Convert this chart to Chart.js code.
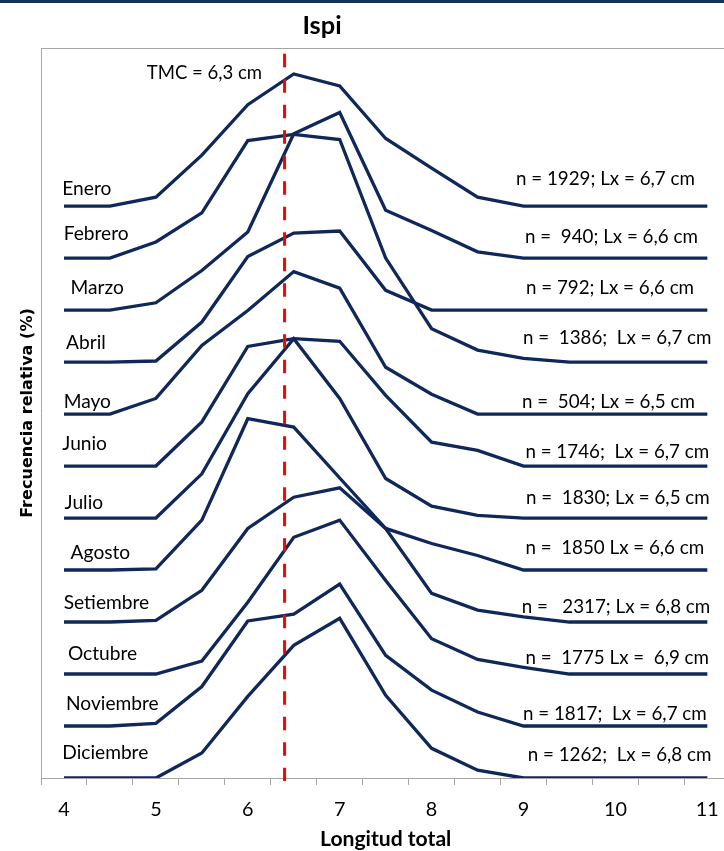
<!DOCTYPE html>
<html><head><meta charset="utf-8">
<script src="https://cdn.jsdelivr.net/npm/chart.js@4.4.1/dist/chart.umd.min.js"></script>
<style>
html,body{margin:0;padding:0;overflow:hidden;background:#fff;width:724px;height:851px}
#wrap{position:relative;width:724px;height:851px;overflow:hidden}
#topbar{position:absolute;left:0;top:0;width:724px;height:3px;background:#14325f}
canvas{position:absolute;left:0;top:0}
</style></head><body>
<div id="wrap"><canvas id="c" width="732" height="851"></canvas><div id="topbar"></div></div>
<script>
// ---------- DATA ----------
const lengthClasses = [4, 4.5, 5, 5.5, 6, 6.5, 7, 7.5, 8, 8.5, 9, 9.5, 10, 10.5, 11];
const xTickValues   = [4, 4.5, 5, 5.5, 6, 6.5, 7, 7.5, 8, 8.5, 9, 9.5, 10, 10.5, 11];
const xTickLabels   = ['4', '', '5', '', '6', '', '7', '', '8', '', '9', '', '10', '', '11'];
const months = ['Enero','Febrero','Marzo','Abril','Mayo','Junio','Julio','Agosto','Setiembre','Octubre','Noviembre','Diciembre'];
const sampleLabels = [
  'n = 1929; Lx = 6,7 cm',
  'n =  940; Lx = 6,6 cm',
  'n = 792; Lx = 6,6 cm',
  'n =  1386;  Lx = 6,7 cm',
  'n =  504; Lx = 6,5 cm',
  'n = 1746;  Lx = 6,7 cm',
  'n =  1830; Lx = 6,5 cm',
  'n =  1850 Lx = 6,6 cm',
  'n =   2317; Lx = 6,8 cm',
  'n =  1775 Lx =  6,9 cm',
  'n = 1817;  Lx = 6,7 cm',
  'n = 1262;  Lx = 6,8 cm'
];
// plotted (offset) relative frequency values per curve
const enero      = [110, 110, 111.7, 119.8, 129.5, 135.4, 133.1, 123.0, 117.3, 111.7, 110, 110, 110, 110, 110];
const febrero    = [100, 100, 103.1, 108.7, 122.6, 123.8, 122.8, 100.0, 86.4, 82.3, 80.7, 80, 80, 80, 80];
const marzo      = [90, 90, 91.4, 97.6, 105.0, 123.9, 128.0, 109.2, 105.3, 101.2, 100, 100, 100, 100, 100];
const abril      = [80, 80, 80.2, 87.7, 100.3, 104.8, 105.2, 93.8, 90, 90, 90, 90, 90, 90, 90];
const mayo       = [70, 70, 73.0, 83.2, 89.9, 97.4, 94.2, 79.0, 73.8, 70, 70, 70, 70, 70, 70];
const junio      = [60, 60, 60, 68.5, 83.0, 84.5, 84.0, 73.6, 64.6, 63.0, 60, 60, 60, 60, 60];
const julio      = [50, 50, 50, 58.5, 73.9, 84.5, 73.0, 57.6, 52.3, 50.5, 50, 50, 50, 50, 50];
const agosto     = [40, 40, 40.2, 49.6, 69.1, 67.5, 57.7, 48.0, 35.5, 32.3, 31.0, 30, 30, 30, 30];
const setiembre  = [30, 30, 30.3, 36.1, 48.0, 54.0, 55.8, 48.0, 45.1, 42.8, 40, 40, 40, 40, 40];
const octubre    = [20, 20, 20, 22.5, 33.8, 46.3, 49.6, 38.0, 26.8, 22.8, 21.3, 20, 20, 20, 20];
const noviembre  = [10, 10, 10.5, 17.6, 30.2, 31.5, 37.3, 23.6, 16.9, 12.7, 10, 10, 10, 10, 10];
const diciembre  = [0, 0, 0, 4.8, 15.7, 25.5, 30.7, 15.9, 5.7, 1.5, 0, 0, 0, 0, 0];
const seriesValues = [enero, febrero, marzo, abril, mayo, junio, julio, agosto, setiembre, octubre, noviembre, diciembre];
const tmcLabel = 'TMC = 6,3 cm';
const tmcLineX = 6.4;
const tmcLineY = [139.3, -0.6];

// ---------- LAYOUT / STYLE ----------
const NAVY = '#0f2859';
const GRAY = '#a6a6a6';
const monthLabelX = [62.3, 63.7, 70.6, 66, 63.7, 62.3, 64.6, 70.6, 63.7, 67.9, 66, 62.3];
const monthLabelY = [188.3, 233.3, 287.3, 341.7, 401, 443.3, 501.7, 551.7, 601.7, 652.7, 703.3, 751.7];
const nLabelX = [516, 525, 526, 523, 522, 525.4, 526, 525.4, 521.7, 525.4, 523, 527.7];
const nLabelY = [177.7, 236, 287.3, 336.7, 401, 451, 496.7, 546.7, 606, 656.7, 712.7, 754];

const mc = document.createElement('canvas').getContext('2d');
function fit(text, weight, family, target) {
  mc.font = weight + ' 100px ' + family;
  return 100 * target / mc.measureText(text).width;
}
const sMonth = fit('Setiembre', 'normal', 'Lato', 85.5);
const sN = fit('n = 1929; Lx = 6,7 cm', 'normal', 'Lato', 179);
const sTmc = fit(tmcLabel, 'normal', 'Lato', 115.4);
const sTitle = fit('Ispi', 'bold', 'Lato', 39.2);
const sXTitle = fit('Longitud total', 'bold', 'Lato', 131.5);
const sYTitle = fit('Frecuencia relativa (%)', 'bold', '"DejaVu Sans"', 210);
const sTick = fit('10', 'normal', 'Lato', 23);

function capH(font) { mc.font = font; return mc.measureText('H').actualBoundingBoxAscent; }

const textPlugin = {
  id: 'texts',
  afterDraw(chart) {
    const ctx = chart.ctx;
    ctx.save();
    ctx.fillStyle = '#000';
    ctx.textBaseline = 'alphabetic';
    ctx.textAlign = 'left';
    let f = sMonth + 'px Lato'; let h = capH(f); ctx.font = f;
    months.forEach((m, i) => ctx.fillText(m, monthLabelX[i], monthLabelY[i] + h / 2));
    f = sN + 'px Lato'; h = capH(f); ctx.font = f;
    sampleLabels.forEach((t, i) => ctx.fillText(t, nLabelX[i], nLabelY[i] + h / 2));
    f = sTmc + 'px Lato'; h = capH(f); ctx.font = f;
    ctx.fillText(tmcLabel, 146.8, 71.7 + h / 2);
    f = 'bold ' + sTitle + 'px Lato'; h = capH(f); ctx.font = f;
    ctx.textAlign = 'center';
    ctx.fillText('Ispi', 322, 25 + h / 2);
    ctx.restore();
  }
};

const datasets = [{
  label: 'TMC',
  data: tmcLineY.map(y => ({x: tmcLineX, y})),
  borderColor: '#ff0000', borderWidth: 3, borderDash: [13.5, 12],
  pointRadius: 0, fill: false, tension: 0, clip: false, order: 0
}];
seriesValues.forEach((vals, i) => datasets.push({
  label: months[i],
  data: lengthClasses.map((x, k) => ({x, y: vals[k]})),
  borderColor: NAVY, borderWidth: 3.3, pointRadius: 0, fill: false, tension: 0,
  borderJoinStyle: 'miter', order: 1 + i
}));

new Chart(document.getElementById('c'), {
  type: 'line',
  data: {datasets},
  options: {
    responsive: false, animation: false, events: [],
    layout: {padding: {left: 0, right: 0, top: 48, bottom: 0}},
    plugins: {legend: {display: false}, tooltip: {enabled: false}, title: {display: false}},
    scales: {
      x: {
        type: 'linear', position: 'bottom', min: 3.75, max: 11.25,
        afterBuildTicks: s => { s.ticks = xTickValues.map(v => ({value: v})); },
        ticks: {autoSkip: false, maxRotation: 0, color: '#000',
          font: {family: 'Lato', size: sTick, lineHeight: 1.2},
          padding: 25 - 0.6 * sTick,
          callback: (v, i) => xTickLabels[i]},
        grid: {display: true, drawOnChartArea: false, drawTicks: true, tickLength: 7, offset: true, color: GRAY},
        border: {display: true, color: GRAY, width: 1},
        title: {display: true, text: 'Longitud total', color: '#000',
          font: {family: 'Lato', weight: 'bold', size: sXTitle, lineHeight: 1.2},
          padding: {top: 4 - 0.6 * sXTitle, bottom: 12 - 0.6 * sXTitle}}
      },
      xTop: {
        type: 'linear', position: 'top', min: 3.75, max: 11.25,
        grid: {display: false, drawTicks: false, tickLength: 0}, ticks: {display: false},
        border: {display: true, color: GRAY, width: 1}
      },
      y: {
        type: 'linear', min: 0, max: 140.4,
        grid: {display: false, drawTicks: false, tickLength: 0}, ticks: {display: false},
        border: {display: true, color: GRAY, width: 1},
        title: {display: true, text: 'Frecuencia relativa (%)', color: '#000',
          font: {family: 'DejaVu Sans', weight: 'bold', size: sYTitle, lineHeight: 1.2},
          padding: {top: 28 - 0.6 * sYTitle, bottom: 13 - 0.6 * sYTitle}}
      }
    }
  },
  plugins: [textPlugin]
});
</script>
</body></html>
